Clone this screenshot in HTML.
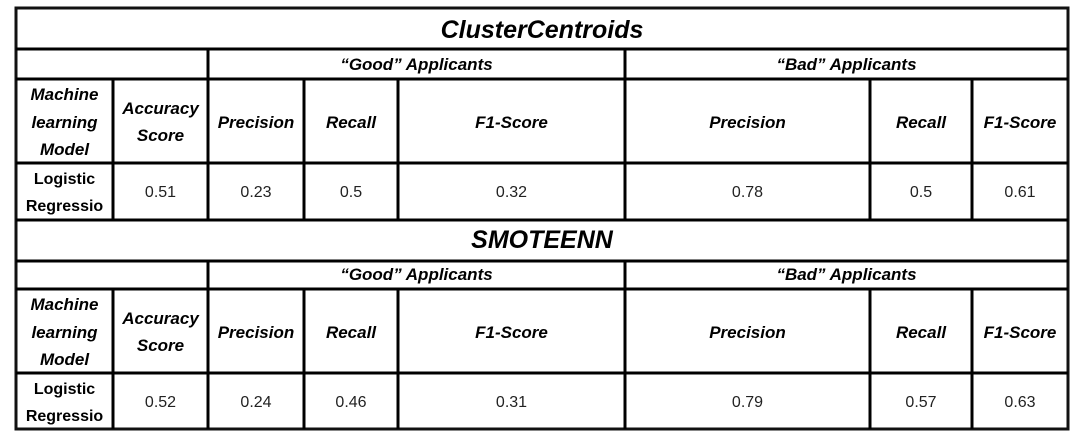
<!DOCTYPE html>
<html><head><meta charset="utf-8"><style>
body{margin:0;background:#fff;width:1079px;height:444px;overflow:hidden}
svg{display:block}
text{font-family:"Liberation Sans",sans-serif;fill:#000}
.h{font-weight:bold;font-style:italic;font-size:17px}
.t{font-weight:bold;font-style:italic;font-size:25px}
.v{font-size:16px;fill:#222}
.b{font-weight:bold;font-size:16px}
</style></head><body>
<svg width="1079" height="444">
<g stroke="#000" stroke-width="3">
<rect x="16" y="8" width="1052" height="421" fill="none" stroke="#111"/>
<line x1="16" y1="49" x2="1068" y2="49"/><line x1="16" y1="79" x2="1068" y2="79"/>
<line x1="16" y1="163" x2="1068" y2="163"/><line x1="16" y1="220" x2="1068" y2="220"/>
<line x1="16" y1="261" x2="1068" y2="261"/><line x1="16" y1="289" x2="1068" y2="289"/>
<line x1="16" y1="373" x2="1068" y2="373"/>
<line x1="208" y1="49" x2="208" y2="220"/><line x1="625" y1="49" x2="625" y2="220"/>
<line x1="208" y1="261" x2="208" y2="429"/><line x1="625" y1="261" x2="625" y2="429"/>
<g id="inner"></g>
</g>
<g text-anchor="middle" id="txt"></g>
</svg>
<script>
const sections=["ClusterCentroids","SMOTEENN"];
const accuracy=["0.51","0.52"];
const goodVals=[["0.23","0.5","0.32"],["0.24","0.46","0.31"]];
const badVals=[["0.78","0.5","0.61"],["0.79","0.57","0.63"]];
const ns="http://www.w3.org/2000/svg";
const g=document.getElementById('txt'), inner=document.getElementById('inner');
const cols=[16,113,208,304,398,625,870,972,1068];
function T(x,y,s,c,name){const t=document.createElementNS(ns,'text');t.setAttribute('x',x);t.setAttribute('y',y);t.setAttribute('class',c);t.textContent=s;


g.appendChild(t);}
function L(x,y1,y2){const l=document.createElementNS(ns,'line');l.setAttribute('x1',x);l.setAttribute('x2',x);l.setAttribute('y1',y1);l.setAttribute('y2',y2);inner.appendChild(l);}
const off=[0,210];
sections.forEach((s,i)=>{
 const o=off[i];
 [113,304,398,870,972].forEach(x=>L(x,79+o,163+o+(i?56:57)));
 const m=(a,b)=>(cols[a]+cols[b])/2;
 T(542,38+o,s,'t','section-title');
 T(m(2,5),70+o,'\u201cGood\u201d Applicants','h','good-group-header');
 T(m(5,8),70+o,'\u201cBad\u201d Applicants','h','bad-group-header');
 T(m(0,1),100+o,'Machine','h','model-header');T(m(0,1),128+o,'learning','h','model-header');T(m(0,1),155+o,'Model','h','model-header');
 T(m(1,2),114+o,'Accuracy','h','accuracy-header');T(m(1,2),141+o,'Score','h','accuracy-header');
 const hd=['Precision','Recall','F1-Score'];
 hd.forEach((h,k)=>{T(m(2+k,3+k),128+o,h,'h','good-col-header');T(m(5+k,6+k),128+o,h,'h','bad-col-header');});
 T(m(0,1),184+o,'Logistic','b','model-name');T(m(0,1),211+o,'Regressio','b','model-name');
 T(m(1,2),197+o,accuracy[i],'v','accuracy-value');
 goodVals[i].forEach((v,k)=>T(m(2+k,3+k),197+o,v,'v','good-value'));
 badVals[i].forEach((v,k)=>T(m(5+k,6+k),197+o,v,'v','bad-value'));
});
</script>
</body></html>
